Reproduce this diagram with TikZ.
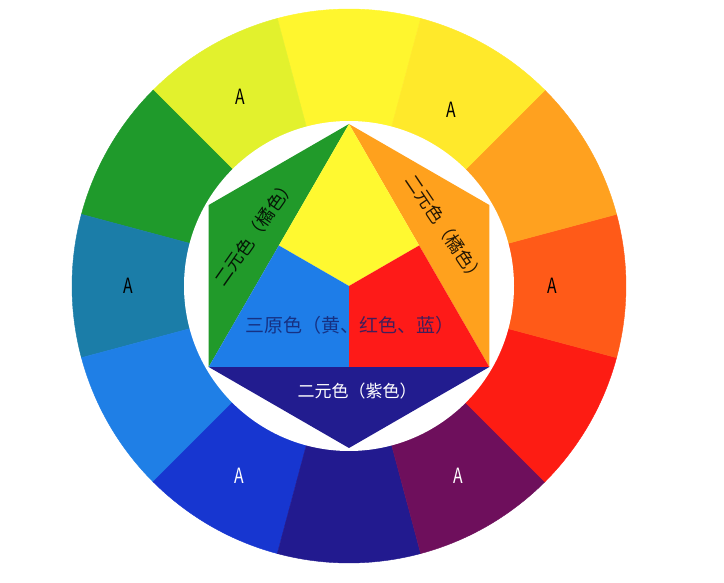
\documentclass[tikz,border=0pt]{standalone}
\usepackage{fontspec}
\newfontfamily\cjk{Noto Sans CJK SC}
\usepackage{tikz}
\usetikzlibrary{calc}

\definecolor{ryellow}{HTML}{FFF62E}
\definecolor{rlime}{HTML}{E2F12D}
\definecolor{rgreen}{HTML}{1F9A2B}
\definecolor{rteal}{HTML}{1B7DA8}
\definecolor{razure}{HTML}{1F7FE6}
\definecolor{rblue}{HTML}{1736D0}
\definecolor{rindigo}{HTML}{221A8F}
\definecolor{rplum}{HTML}{6E0F5C}
\definecolor{rred}{HTML}{FD1C13}
\definecolor{rvermil}{HTML}{FF5A18}
\definecolor{rorange}{HTML}{FFA11F}
\definecolor{rgold}{HTML}{FFE92B}
\definecolor{hyellow}{HTML}{FFF930}
\definecolor{hgreen}{HTML}{219A2A}
\definecolor{horange}{HTML}{FFA11D}
\definecolor{hblue}{HTML}{1E7DE8}
\definecolor{hred}{HTML}{FE1A18}
\definecolor{hpurple}{HTML}{221C8F}
\definecolor{navytext}{HTML}{141F6A}

\begin{document}
\begin{tikzpicture}[x=1pt, y=1pt,
    hue/.style={font=\cjk\fontsize{17}{17}\selectfont, inner sep=0pt},
    slant/.style={hue, font=\cjk\fontsize{18}{18}\selectfont},
    tert/.style={font=\cjk\fontsize{21}{21}\selectfont, xscale=0.75, inner sep=0pt}]
      \useasboundingbox (0,0) rectangle (724,582);
      \coordinate (C) at (349,296);

      % colour ring
      \foreach \a/\c in {90/ryellow, 120/rlime, 150/rgreen, 180/rteal,
          210/razure, 240/rblue, 270/rindigo, 300/rplum, 330/rred,
          360/rvermil, 30/rorange, 60/rgold}
        \filldraw[fill=\c, draw=\c, line width=0.4pt] (C) -- ($(C)+(\a-15:277)$)
          arc[start angle=\a-15, end angle=\a+15, radius=277] -- cycle;
      \fill[white] (C) circle[radius=165];

      \foreach \a/\r/\t in {60/204/black, 120/218/black, 180/221/black,
          240/219/white, 300/219/white, 0/203/black}
        \node[tert, text=\t] (a\a) at ($(C)+(\a:\r)$) {A};

      % hexagon
      \coordinate (top) at ($(C)+(90:162)$);
      \coordinate (ur) at ($(C)+(30:162)$);
      \coordinate (lr) at ($(C)+(-30:162)$);
      \coordinate (bot) at ($(C)+(-90:162)$);
      \coordinate (ll) at ($(C)+(-150:162)$);
      \coordinate (ul) at ($(C)+(150:162)$);
      \coordinate (ml) at ($(top)!0.5!(ll)$);
      \coordinate (mr) at ($(top)!0.5!(lr)$);
      \coordinate (mb) at ($(ll)!0.5!(lr)$);

      \fill[hgreen] (top) -- (ul) -- (ll) -- cycle;
      \fill[horange] (top) -- (ur) -- (lr) -- cycle;
      \fill[hpurple] (ll) -- (bot) -- (lr) -- cycle;
      \fill[hyellow] (top) -- (ml) -- (C) -- (mr) -- cycle;
      \fill[hblue] (ml) -- (ll) -- (mb) -- (C) -- cycle;
      \fill[hred] (C) -- (mb) -- (lr) -- (mr) -- cycle;

      \node[hue, font=\cjk\fontsize{19}{19}\selectfont, text=navytext, text opacity=0.8]
        (prim) at (350,257) {三原色（黄、红色、蓝）};
      \node[hue, text=white] (viol) at (357,191) {二元色（紫色）};
      \node[slant, rotate=55, text=black!85!hgreen] (grn) at (255,350) {二元色（橘色）};
      \node[slant, rotate=-56, text=black!85!horange] (orn) at (445,353) {二元色（橘色）};
    \end{tikzpicture}
\end{document}
